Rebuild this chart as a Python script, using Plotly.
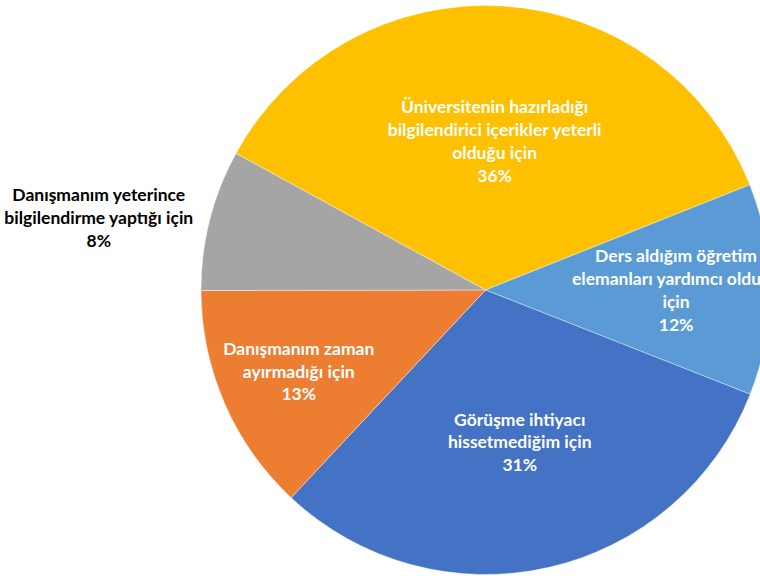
import plotly.graph_objects as go

labels = [
    "Üniversitenin hazırladığı<br>bilgilendirici içerikler yeterli<br>olduğu için",
    "Ders aldığım öğretim<br>elemanları yardımcı olduğu<br>için",
    "Görüşme ihtiyacı<br>hissetmediğim için",
    "Danışmanım zaman<br>ayırmadığı için",
    "Danışmanım yeterince<br>bilgilendirme yaptığı için",
]
values = [36, 12, 31, 13, 8]
colors = ["#FFC000", "#5B9BD5", "#4472C4", "#ED7D31", "#A5A5A5"]
text_colors = ["white", "white", "white", "white", "black"]
positions = ["inside", "inside", "inside", "inside", "outside"]

fig = go.Figure(go.Pie(
    labels=labels,
    values=values,
    sort=False,
    direction="clockwise",
    rotation=298.7,
    marker=dict(colors=colors, line=dict(color="white", width=0.4)),
    texttemplate="<b>%{label}<br>%{percent:.0%}</b>",
    textposition=positions,
    insidetextorientation="horizontal",
    textfont=dict(family="Lato", size=17.5, color=text_colors),
    hoverinfo="skip",
    showlegend=False,
))

fig.update_layout(
    width=780,
    height=580,
    margin=dict(l=190, r=10, t=0, b=0),
    paper_bgcolor="white",
    plot_bgcolor="white",
    uniformtext=dict(minsize=17.5, mode="show"),
)

fig.write_html(
    "out.html",
    config={"displayModeBar": False},
    post_script="document.body.style.margin='0';document.body.style.overflow='hidden';",
)
